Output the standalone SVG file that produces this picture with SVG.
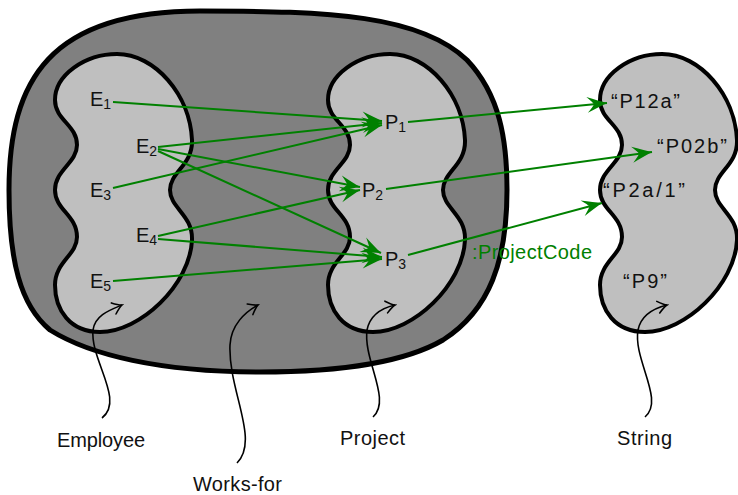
<svg xmlns="http://www.w3.org/2000/svg" width="738" height="495" viewBox="0 0 738 495">
<style>
.outer{fill:#808080;stroke:#000;stroke-width:5}
.blob{fill:#bfbfbf;stroke:#000;stroke-width:4}
.edge{stroke:#008000;stroke-width:2;fill:none;marker-end:url(#ga)}
.ptr{stroke:#000;stroke-width:1.6;fill:none;marker-end:url(#ba)}
text{font-family:"Liberation Sans",Arial,sans-serif;font-size:20px;fill:#111}
.sub{font-size:14px}
.g{fill:#008000}
</style>
<defs>
<path id="blobshape" d="M 117,54 C 155,54 190,95 192,140 C 193,165 170,172 170,190 C 170,208 193,215 192,240 C 190,285 140,332 100,332 C 70,332 55,310 55,285 C 55,262 77,255 77,237 C 77,215 55,210 55,190 C 55,170 77,163 77,145 C 77,125 55,120 55,100 C 55,75 85,54 117,54 Z"/>
<marker id="ga" viewBox="-22 -10 24 20" markerWidth="24" markerHeight="20" refX="0" refY="0" orient="auto" markerUnits="userSpaceOnUse">
<path d="M0,0 Q-8,-3 -20,-8 Q-14,-2 -13,0 Q-14,2 -20,8 Q-8,3 0,0 Z" fill="#008000"/>
</marker>
<marker id="ba" viewBox="-12 -8 14 16" markerWidth="14" markerHeight="16" refX="0" refY="0" orient="auto" markerUnits="userSpaceOnUse">
<path d="M-9,-6 Q-3,-1 0,0 Q-3,1 -9,6" fill="none" stroke="#000" stroke-width="1.6" stroke-linecap="round"/>
</marker>
</defs>

<g id="works-for">
<path class="outer" d="M 9,190 C 9,80 50,11 200,11 C 330,11 420,15 467,60 C 500,95 507,140 507,190 C 507,260 490,310 443,340 C 400,365 330,372 260,372 C 160,372 90,355 50,330 C 20,305 9,260 9,190 Z"/>
</g>
<g id="employee">
<use href="#blobshape" class="blob"/>
</g>
<g id="project">
<use href="#blobshape" class="blob" transform="translate(273,0)"/>
</g>
<g id="string">
<use href="#blobshape" class="blob" transform="translate(545,0)"/>
</g>

<g id="connectors">
<path class="edge" d="M113,102 L382,121"/>
<path class="edge" d="M158,147 L382,123"/>
<path class="edge" d="M113,188 L382,125"/>
<path class="edge" d="M158,149 L360,187"/>
<path class="edge" d="M158,236 L360,190"/>
<path class="edge" d="M158,151 L381,253"/>
<path class="edge" d="M158,239 L382,257"/>
<path class="edge" d="M113,281 L382,259"/>
<path class="edge" d="M408,122 L607,103"/>
<path class="edge" d="M386,189 L652,152"/>
<path class="edge" d="M408,255 L602,203"/>
<path class="ptr" d="M102,418 C125,400 90,360 93,330 C95,315 110,310 122,305"/>
<path class="ptr" d="M237,463 C260,440 228,390 230,345 C231,325 245,312 258,305"/>
<path class="ptr" d="M373,417 C392,400 363,360 367,330 C370,315 382,308 395,305"/>
<path class="ptr" d="M645,417 C665,400 633,360 638,330 C641,315 655,308 667,305"/>
</g>

<g id="labels">
<text x="90" y="106">E<tspan class="sub" dy="3">1</tspan></text>
<text x="136" y="153">E<tspan class="sub" dy="3">2</tspan></text>
<text x="90" y="197">E<tspan class="sub" dy="3">3</tspan></text>
<text x="136" y="242">E<tspan class="sub" dy="3">4</tspan></text>
<text x="90" y="288">E<tspan class="sub" dy="3">5</tspan></text>
<text x="385" y="129">P<tspan class="sub" dy="3">1</tspan></text>
<text x="362" y="197">P<tspan class="sub" dy="3">2</tspan></text>
<text x="385" y="266">P<tspan class="sub" dy="3">3</tspan></text>
<text x="611" y="108" textLength="69" lengthAdjust="spacing">“P12a”</text>
<text x="657" y="153" textLength="70" lengthAdjust="spacing">“P02b”</text>
<text x="603" y="197" textLength="82" lengthAdjust="spacing">“P2a/1”</text>
<text x="623" y="288" textLength="44" lengthAdjust="spacing">“P9”</text>
<text class="g" x="472" y="259" textLength="120" lengthAdjust="spacing">:ProjectCode</text>
<text x="57" y="447" textLength="88" lengthAdjust="spacing">Employee</text>
<text x="193" y="491" textLength="89" lengthAdjust="spacing">Works-for</text>
<text x="340" y="445" textLength="65" lengthAdjust="spacing">Project</text>
<text x="617" y="445" textLength="55" lengthAdjust="spacing">String</text>
</g>
</svg>
